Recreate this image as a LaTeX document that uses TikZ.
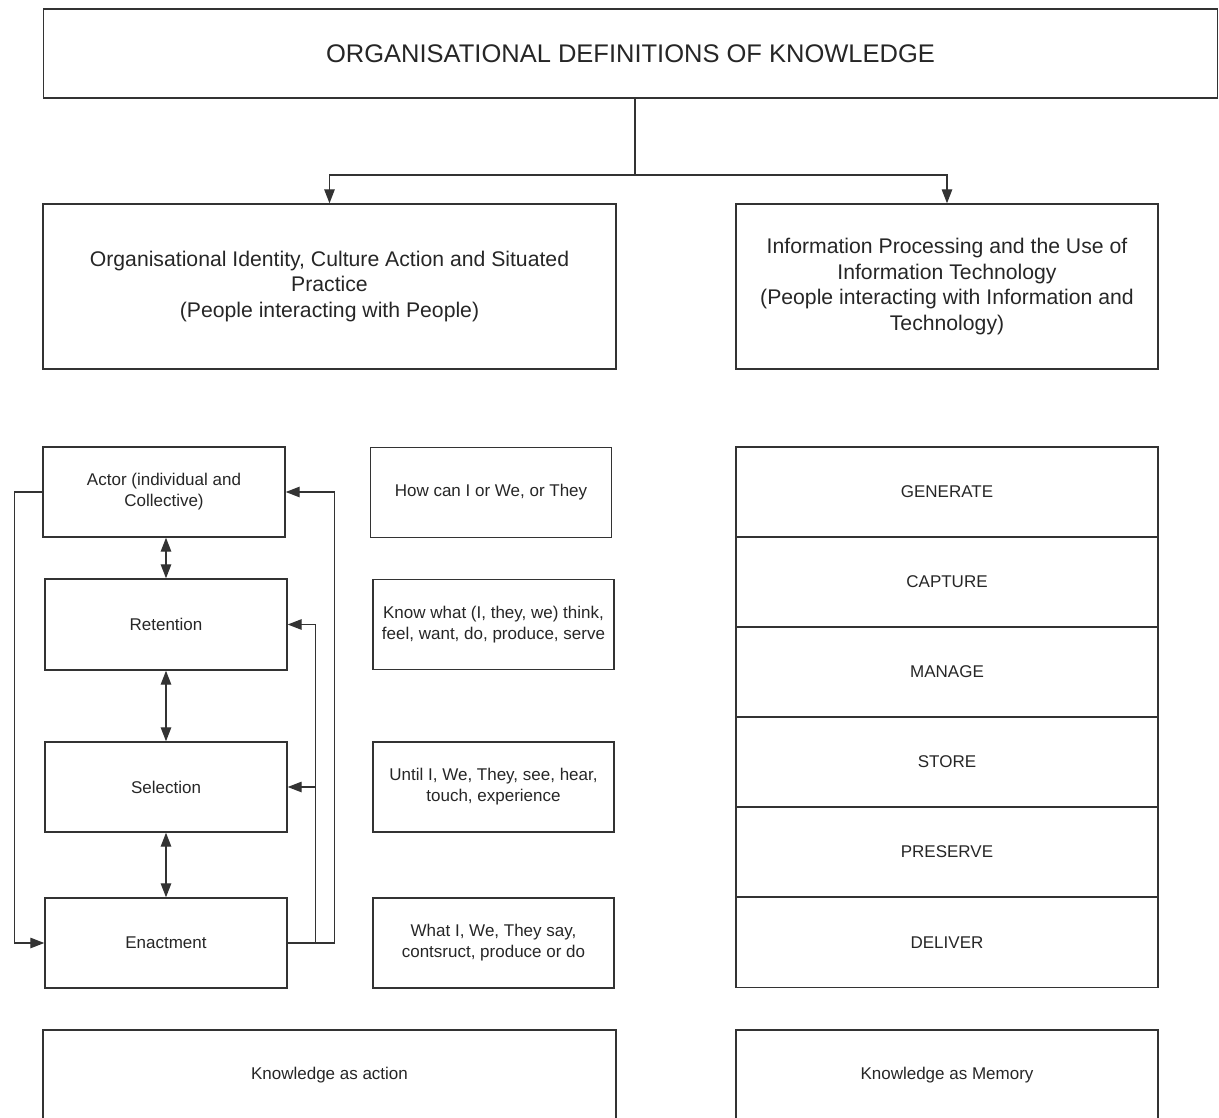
\documentclass[tikz,border=0pt]{standalone}
\usepackage{fontspec}
\setmainfont{Liberation Sans}
\usetikzlibrary{arrows.meta}
\begin{document}
\begin{tikzpicture}[x=1pt,y=-1pt,
  box/.style={draw=black!80, line width=1.4pt, rectangle, inner sep=2pt,
    align=center, text=black!85},
  titletext/.style={font=\fontsize{25.5}{29}\selectfont},
  midtext/.style={font=\fontsize{21.2}{25.5}\selectfont},
  smalltext/.style={font=\fontsize{17}{21}\selectfont},
  stepbox/.style={box, smalltext, minimum width=242pt, minimum height=90pt},
  notebox/.style={box, smalltext, minimum width=241pt, minimum height=90pt},
  stagebox/.style={box, smalltext, minimum width=422pt, minimum height=90pt},
  link/.style={draw=black!80, line width=1.3pt},
  tip/.tip={Triangle[length=14pt,width=10.5pt]},
  arr/.style={link, -tip},
  dbl/.style={link, tip-tip}]
\useasboundingbox (0,0) rectangle (1219,1118);
\clip (0,0) rectangle (1219,1118);

% heading
\node[box, titletext, minimum width=1174pt, minimum height=89pt] (title) at (630.5,53.5)
  {ORGANISATIONAL DEFINITIONS OF KNOWLEDGE};

% two perspectives
\node[box, midtext, minimum width=573pt, minimum height=165pt] (people) at (329.5,286.5)
  {Organisational Identity, Culture Action and Situated\\Practice\\(People interacting with People)};
\node[box, midtext, minimum width=422pt, minimum height=165pt] (info) at (947,286.5)
  {Information Processing and the Use of\\Information Technology\\(People interacting with Information and\\Technology)};

\draw[link] ([xshift=4.5pt]title.south) -- (635,175) coordinate (fork);
\draw[arr] (fork) -| (people.north);
\draw[arr] (fork) -| (info.north);

% sensemaking cycle
\node[stepbox] (actor) at (164,492) {Actor (individual and\\Collective)};
\node[stepbox, minimum height=91pt] (retention) at (166,624.5) {Retention};
\node[stepbox] (selection) at (166,787) {Selection};
\node[stepbox] (enactment) at (166,943) {Enactment};

\draw[dbl] (actor.south -| retention.north) -- (retention.north);
\draw[dbl] (retention.south) -- (selection.north);
\draw[dbl] (selection.south) -- (enactment.north);

\draw[arr] (actor.west) -- ++(-28,0) |- (enactment.west);
\draw[arr] (enactment.east) -- ++(47,0) |- (actor.east);
\draw[arr] (enactment.east) ++(28,0) |- (retention.east);
\draw[arr] (enactment.east) ++(28,0) |- (selection.east);

% questions beside the cycle
\node[notebox] (q1) at (491,492.5) {How can I or We, or They};
\node[notebox] (q2) at (493.5,624.5) {Know what (I, they, we) think,\\feel, want, do, produce, serve};
\node[notebox] (q3) at (493.5,787) {Until I, We, They, see, hear,\\touch, experience};
\node[notebox] (q4) at (493.5,943) {What I, We, They say,\\contsruct, produce or do};

% information life cycle
\node[stagebox] (generate) at (947,492) {GENERATE};
\node[stagebox] (capture)  at (947,582) {CAPTURE};
\node[stagebox] (manage)   at (947,672) {MANAGE};
\node[stagebox] (store)    at (947,762) {STORE};
\node[stagebox] (preserve) at (947,852) {PRESERVE};
\node[stagebox] (deliver)  at (947,942.5) {DELIVER};

% outcomes
\node[box, smalltext, minimum width=573pt, minimum height=90pt] (action) at (329.5,1075)
  {Knowledge as action};
\node[box, smalltext, minimum width=422pt, minimum height=90pt] (memory) at (947,1075)
  {Knowledge as Memory};
\end{tikzpicture}
\end{document}
